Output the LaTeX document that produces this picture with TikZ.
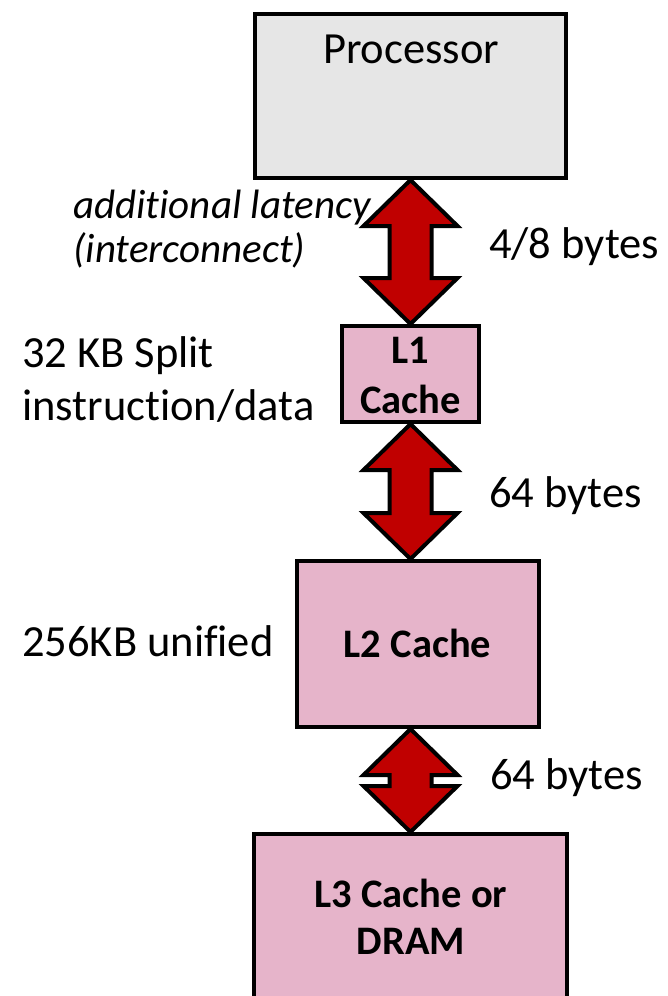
\documentclass[tikz,border=0pt]{standalone}
\usepackage{fontspec}
\setmainfont{Carlito}[Ligatures=NoCommon]
\usetikzlibrary{calc}
\definecolor{procgray}{HTML}{E6E6E6}
\definecolor{cachepink}{HTML}{E6B4CA}
\definecolor{busred}{HTML}{C00000}

% double-headed block arrow between two points; x taken from the first point
\newcommand{\busarrow}[2]{%
  \filldraw[busarrowstyle] let \p1=#1, \p2=#2 in
    (\p1) -- (\x1+47pt,\y1-46pt) -- (\x1+21pt,\y1-46pt)
    -- (\x1+21pt,\y2+46pt) -- (\x1+47pt,\y2+46pt) -- (\x1,\y2)
    -- (\x1-47pt,\y2+46pt) -- (\x1-21pt,\y2+46pt)
    -- (\x1-21pt,\y1-46pt) -- (\x1-47pt,\y1-46pt) -- cycle;}

\begin{document}
\begin{tikzpicture}[x=1pt,y=1pt,
  box/.style={draw=black,line width=4pt,line join=miter,inner sep=0pt},
  procbox/.style={box,fill=procgray},
  cachebox/.style={box,fill=cachepink},
  busarrowstyle/.style={draw=black,fill=busred,line width=4pt,line join=miter},
  lbl/.style={inner sep=0pt,font=\fontsize{44.5}{53}\selectfont},
  itlbl/.style={inner sep=0pt,font=\fontsize{41}{47}\selectfont\itshape},
  boxlbl/.style={inner sep=0pt,anchor=base,font=\fontsize{40.5}{47}\selectfont\bfseries}]
\useasboundingbox (0,0) rectangle (668,-996);
\clip (0,0) rectangle (668,-996);

% memory hierarchy boxes
\node[procbox,minimum width=311pt,minimum height=164pt] (proc) at (410.5,-96) {};
\node[cachebox,minimum width=137pt,minimum height=96pt] (l1) at (410.5,-374) {};
\node[cachebox,minimum width=242pt,minimum height=166pt] (l2) at (418,-644) {};
\node[cachebox,minimum width=313pt,minimum height=266pt] (l3) at (410.5,-967) {};

% box captions
\node[lbl,anchor=base] (proctxt) at (411,-63) {Processor};
\node[boxlbl] (l1a) at (410.5,-363) {L1};
\node[boxlbl] (l1b) at (410.5,-413) {Cache};
\node[boxlbl] (l2txt) at (417.5,-657) {L2 Cache};
\node[boxlbl] (l3a) at (411,-907) {L3 Cache or};
\node[boxlbl] (l3b) at (411,-954) {DRAM};

% buses
\busarrow{(proc.south)}{(l1.north)}
\busarrow{(l1.south)}{(l2.north -| l1.south)}
\busarrow{(l2.south -| l3.north)}{(l3.north)}

% bus widths
\node[lbl,anchor=base west] (w1) at (489,-258) {4/8 bytes};
\node[lbl,anchor=base west] (w2) at (489,-507) {64 bytes};
\node[lbl,anchor=base west] (w3) at (490,-789) {64 bytes};

% side notes
\node[itlbl,anchor=base west] (lat1) at (73,-218) {additional latency};
\node[itlbl,anchor=base west] (lat2) at (73,-262) {(interconnect)};
\node[lbl,anchor=base west] (s1) at (22,-367) {32 KB Split};
\node[lbl,anchor=base west] (s2) at (22,-420) {instruction/data};
\node[lbl,anchor=base west] (s3) at (22,-656) {256KB unified};
\end{tikzpicture}
\end{document}
